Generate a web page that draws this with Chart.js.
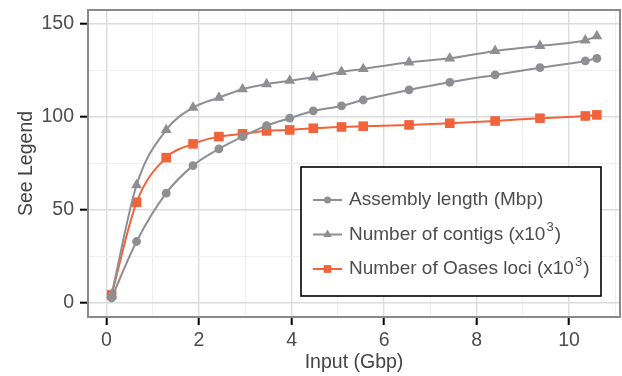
<!DOCTYPE html>
<html>
<head>
<meta charset="utf-8">
<script src="https://cdn.jsdelivr.net/npm/chart.js@4/dist/chart.umd.min.js"></script>
<style>
  html, body { margin: 0; padding: 0; background: #fff; }
</style>
</head>
<body>
<canvas id="myChart" width="622" height="376"></canvas>
<script>
// values
const inputGbp = [0.11, 0.65, 1.29, 1.87, 2.43, 2.94, 3.46, 3.96, 4.47, 5.08, 5.55, 6.54, 7.42, 8.40, 9.37, 10.35, 10.60];
const assemblyLength = [2.7, 33, 59, 73.8, 82.8, 89.4, 95.3, 99.3, 103.2, 105.9, 109.1, 114.5, 118.6, 122.6, 126.5, 130.1, 131.5];
const contigs = [4.5, 63.4, 93, 105, 110.4, 114.9, 117.7, 119.5, 121.3, 124.2, 125.8, 129.4, 131.5, 135.5, 138.2, 141.2, 143.5];
const oasesLoci = [4.3, 54.1, 78.1, 85.5, 89.4, 90.9, 92.5, 93, 93.9, 94.6, 95.0, 95.7, 96.6, 97.8, 99.3, 100.5, 101.1];

const xTicks = [0, 1, 2, 3, 4, 5, 6, 7, 8, 9, 10, 11];
const yTicks = [0, 25, 50, 75, 100, 125, 150];
const xLabels = [0, 2, 4, 6, 8, 10];
const yLabels = [0, 50, 100, 150];

const seriesNames = ['Assembly length (Mbp)', 'Number of contigs (x10', 'Number of Oases loci (x10'];
const seriesSup = ['', '3', '3'];

const GRAY = '#8e8f93';
const ORANGE = '#f1633b';
const FONT = "'Liberation Sans', Arial, Helvetica, sans-serif";

function pts(ys) {
    return inputGbp.map(function (x, i) { return {x: x, y: ys[i]}; });
}

const styles = [
    {pointStyle: 'circle', radius: 4.4, color: GRAY},
    {pointStyle: 'triangle', radius: 6.3, color: GRAY},
    {pointStyle: 'rect', radius: 6.8, color: ORANGE}
];

function makeSet(label, ys, st) {
    return {
        label: label,
        data: pts(ys),
        borderColor: st.color,
        backgroundColor: st.color,
        borderWidth: 2,
        pointStyle: st.pointStyle,
        pointRadius: st.radius,
        pointBorderWidth: 0,
        pointBackgroundColor: st.color,
        cubicInterpolationMode: 'monotone'
    };
}

function noPad(s) {
    s.paddingLeft = 0; s.paddingRight = 0; s.paddingTop = 0; s.paddingBottom = 0;
}

// grey frame round the panel
const panelBorder = {
    id: 'panelBorder',
    afterDraw(chart) {
        const ctx = chart.ctx, a = chart.chartArea;
        ctx.save();
        ctx.strokeStyle = '#8a8a8a';
        ctx.lineWidth = 2;
        ctx.strokeRect(a.left, a.top, a.right - a.left, a.bottom - a.top);
        ctx.restore();
    }
};

// boxed legend inside the panel, with superscripts
const legendBox = {
    id: 'legendBox',
    afterDraw(chart) {
        const ctx = chart.ctx, a = chart.chartArea;
        const x0 = a.right - 319, y0 = a.top + 157, w = 300, h = 129;
        ctx.save();
        ctx.fillStyle = '#fff';
        ctx.fillRect(x0, y0, w, h);
        ctx.strokeStyle = '#000';
        ctx.lineWidth = 1.6;
        ctx.strokeRect(x0, y0, w, h);

        for (let i = 0; i < 3; i++) {
            const y = y0 + 33 + i * 34.5;
            const st = styles[i];
            ctx.strokeStyle = st.color;
            ctx.fillStyle = st.color;
            ctx.lineWidth = 2;
            ctx.beginPath();
            ctx.moveTo(x0 + 12, y);
            ctx.lineTo(x0 + 41, y);
            ctx.stroke();
            Chart.helpers.drawPoint(ctx, {pointStyle: st.pointStyle, radius: st.radius * 0.8, rotation: 0, borderWidth: 0}, x0 + 26.5, y);

            ctx.fillStyle = '#4d4d4d';
            ctx.textBaseline = 'middle';
            ctx.textAlign = 'left';
            ctx.font = '19px ' + FONT;
            let tx = x0 + 48;
            ctx.fillText(seriesNames[i], tx, y);
            if (seriesSup[i]) {
                tx += ctx.measureText(seriesNames[i]).width + 1;
                ctx.font = '13px ' + FONT;
                ctx.fillText(seriesSup[i], tx, y - 7);
                tx += ctx.measureText(seriesSup[i]).width + 1;
                ctx.font = '19px ' + FONT;
                ctx.fillText(')', tx, y);
            }
        }
        ctx.restore();
    }
};

new Chart(document.getElementById('myChart'), {
    type: 'line',
    data: {
        datasets: [
            makeSet(seriesNames[0], assemblyLength, styles[0]),
            makeSet(seriesNames[1] + '3)', contigs, styles[1]),
            makeSet(seriesNames[2] + '3)', oasesLoci, styles[2])
        ]
    },
    plugins: [panelBorder, legendBox],
    options: {
        responsive: false,
        animation: false,
        devicePixelRatio: 1,
        layout: {autoPadding: false, padding: {top: 10, right: 2, left: 0, bottom: 0}},
        plugins: {
            legend: {display: false},
            tooltip: {enabled: false}
        },
        scales: {
            x: {
                type: 'linear',
                min: -0.40,
                max: 11.10,
                afterBuildTicks: function (s) { s.ticks = xTicks.map(function (v) { return {value: v}; }); },
                afterFit: function (s) { s.height = 59; noPad(s); },
                border: {display: false},
                grid: {
                    color: function (c) { return c.tick && c.tick.value % 2 === 0 ? '#dcdcdc' : '#efefef'; },
                    lineWidth: function (c) { return c.tick && c.tick.value % 2 === 0 ? 1.4 : 1; },
                    tickColor: function (c) { return c.tick && c.tick.value % 2 === 0 ? '#000' : 'rgba(0,0,0,0)'; },
                    tickWidth: 2,
                    tickLength: 8
                },
                ticks: {
                    autoSkip: false,
                    maxRotation: 0,
                    padding: 4,
                    color: '#4d4d4d',
                    font: {family: FONT, size: 19.5},
                    callback: function (v) { return xLabels.indexOf(v) !== -1 ? String(v) : ''; }
                },
                title: {
                    display: true,
                    text: 'Input (Gbp)',
                    color: '#444',
                    font: {family: FONT, size: 19.5},
                    padding: {top: 0, bottom: 2}
                }
            },
            y: {
                min: -7.6,
                max: 157.5,
                afterBuildTicks: function (s) { s.ticks = yTicks.map(function (v) { return {value: v}; }); },
                afterFit: function (s) { s.width = 88; noPad(s); },
                border: {display: false},
                grid: {
                    color: function (c) { return c.tick && c.tick.value % 50 === 0 ? '#dcdcdc' : '#efefef'; },
                    lineWidth: function (c) { return c.tick && c.tick.value % 50 === 0 ? 1.4 : 1; },
                    tickColor: function (c) { return c.tick && c.tick.value % 50 === 0 ? '#000' : 'rgba(0,0,0,0)'; },
                    tickWidth: 2,
                    tickLength: 8
                },
                ticks: {
                    autoSkip: false,
                    padding: 6,
                    color: '#4d4d4d',
                    font: {family: FONT, size: 19.5},
                    callback: function (v) { return yLabels.indexOf(v) !== -1 ? String(v) : ''; }
                },
                title: {
                    display: true,
                    text: 'See Legend',
                    color: '#444',
                    font: {family: FONT, size: 19.5},
                    padding: {top: 15, bottom: 0}
                }
            }
        }
    }
});
</script>
</body>
</html>
